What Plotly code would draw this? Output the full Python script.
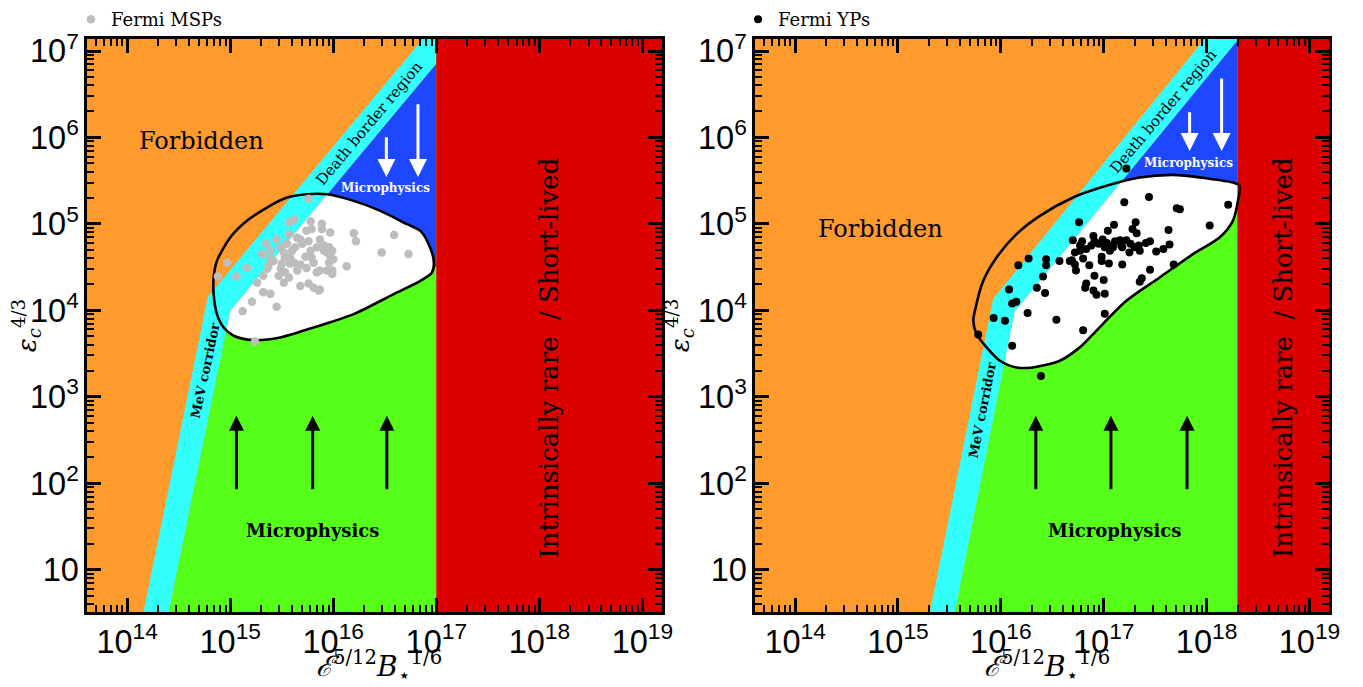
import numpy as np
import plotly.graph_objects as go

# ---------------- axes (log10 units) ----------------
X_RANGE = [13.61, 19.19]
Y_RANGE = [0.509, 7.139]

# ---------------- colours ----------------
ORANGE = "#FF9A2C"
GREEN = "#55FF1A"
BLUE = "#1E48FF"
CYAN = "#33FFFF"
RED = "#DD0000"
MSP_GREY = "#BDBDBD"

# ---------------- data: Fermi MSPs (log10 x, log10 y) ----------------
msp_log_x = [15.76, 15.57, 15.62, 15.78, 15.89, 15.89, 15.97, 15.74, 15.79, 16.20,
             16.22, 16.59, 16.47, 16.73, 15.57, 15.45, 15.35, 15.31, 15.39, 15.49,
             15.55, 15.60, 15.65, 15.68, 15.70, 15.76, 15.78, 15.84, 15.87, 15.91,
             15.94, 15.99, 16.00, 15.96, 16.13, 15.74, 15.84, 15.87, 15.94, 15.99,
             15.65, 15.58, 15.50, 15.39, 15.37, 15.49, 15.53, 15.57, 15.52, 15.47,
             15.32, 15.26, 15.16, 14.97, 14.88, 15.06, 15.68, 15.76, 15.81, 15.86,
             15.32, 15.39, 15.21, 15.12, 15.45, 15.24, 15.36, 15.42, 15.53, 15.58,
             15.63, 15.52, 15.62, 15.68, 15.73, 15.79, 15.81, 15.91, 15.96, 15.87,
             15.99, 15.97]
msp_log_y = [5.29, 5.02, 5.05, 5.03, 5.00, 4.94, 4.90, 4.92, 4.94, 4.89,
             4.80, 4.87, 4.67, 4.65, 4.88, 4.82, 4.77, 4.65, 4.69, 4.73,
             4.77, 4.69, 4.84, 4.82, 4.77, 4.80, 4.69, 4.73, 4.82, 4.75,
             4.67, 4.69, 4.59, 4.55, 4.51, 4.49, 4.44, 4.46, 4.46, 4.42,
             4.46, 4.54, 4.54, 4.59, 4.51, 4.48, 4.44, 4.38, 4.32, 4.40,
             4.40, 4.32, 4.49, 4.55, 4.39, 4.39, 4.28, 4.31, 4.26, 4.23,
             4.21, 4.19, 4.10, 3.99, 4.04, 3.64, 4.48, 4.57, 4.61, 4.61,
             4.73, 4.67, 4.55, 4.53, 4.62, 4.61, 4.55, 4.69, 4.73, 4.24,
             4.46, 4.63]

# ---------------- data: Fermi young pulsars (log10 x, log10 y) ----------------
yp_log_x = [17.20, 17.44, 17.71, 17.74, 18.21, 16.76, 17.10, 17.31, 17.28, 17.32,
            17.63, 18.03, 16.70, 16.79, 16.90, 16.91, 16.99, 17.04, 17.03, 17.06,
            17.11, 17.16, 17.18, 17.22, 17.26, 17.30, 17.34, 17.35, 17.41, 17.45,
            17.51, 17.58, 17.64, 17.25, 17.06, 17.01, 16.95, 16.88, 16.83, 16.77,
            16.72, 16.67, 16.57, 16.44, 16.44, 16.27, 16.17, 16.73, 16.72, 16.86,
            16.98, 17.05, 17.18, 17.45, 17.68, 16.41, 16.35, 16.43, 16.91, 17.00,
            16.83, 16.82, 16.90, 16.93, 17.01, 17.37, 17.35, 16.08, 16.15, 16.11,
            15.93, 16.04, 16.26, 16.54, 17.01, 16.80, 15.78, 16.11, 16.39, 16.77,
            16.80, 16.69, 17.17, 17.09, 16.98, 17.22]
yp_log_y = [5.25, 5.31, 5.18, 5.17, 5.22, 5.02, 4.99, 5.02, 4.94, 4.89,
            4.93, 4.98, 4.81, 4.80, 4.86, 4.80, 4.82, 4.92, 4.78, 4.75,
            4.80, 4.81, 4.73, 4.81, 4.77, 4.73, 4.75, 4.69, 4.78, 4.80,
            4.68, 4.71, 4.76, 4.67, 4.69, 4.73, 4.77, 4.75, 4.71, 4.69,
            4.67, 4.57, 4.57, 4.59, 4.52, 4.60, 4.52, 4.46, 4.53, 4.52,
            4.62, 4.54, 4.53, 4.47, 4.53, 4.39, 4.26, 4.20, 4.40, 4.35,
            4.31, 4.26, 4.23, 4.18, 4.19, 4.37, 4.33, 4.24, 4.10, 4.08,
            3.91, 3.88, 3.97, 3.89, 3.96, 3.77, 3.72, 3.59, 3.24, 4.75,
            4.60, 4.58, 4.75, 4.73, 4.57, 5.64]

# ---------------- population contours (log10) ----------------
msp_blob_log_x = [14.839, 14.871, 15.000, 15.162, 15.356, 15.551, 15.745, 15.939, 16.198,
                  16.457, 16.716, 16.845, 16.926, 16.975, 16.958, 16.845, 16.586, 16.198,
                  15.809, 15.486, 15.227, 15.033, 14.936, 14.871, 14.839]
msp_blob_log_y = [4.379, 4.572, 4.842, 5.035, 5.189, 5.304, 5.343, 5.343, 5.266,
                  5.150, 4.996, 4.919, 4.765, 4.572, 4.437, 4.341, 4.187, 3.956,
                  3.801, 3.686, 3.655, 3.705, 3.801, 3.956, 4.187]
yp_blob_log_x = [15.732, 15.748, 15.829, 15.958, 16.152, 16.379, 16.702, 17.026, 17.350,
                 17.673, 17.997, 18.256, 18.321, 18.305, 18.256, 18.126, 17.868, 17.544,
                 17.220, 16.897, 16.767, 16.573, 16.314, 16.152, 15.991, 15.861, 15.764]
yp_blob_log_y = [3.879, 3.995, 4.341, 4.611, 4.881, 5.093, 5.305, 5.440, 5.536,
                 5.567, 5.528, 5.478, 5.440, 5.266, 5.035, 4.842, 4.650, 4.380,
                 4.110, 3.725, 3.571, 3.416, 3.339, 3.339, 3.416, 3.571, 3.725]

# ---------------- region boundaries (log10) ----------------
# left panel (MSPs)
L_corridor_bottom_x = [14.158, 14.403]      # cyan corridor at bottom edge
L_bend_outer = [14.783, 4.156]               # left edge bend of the cyan band
L_bend_inner = [15.000, 3.996]               # right edge bend of the cyan band
L_band_top_x = 16.869                        # left edge of band at top
L_band_end_y = 6.856                         # right edge of band at red border
L_red_x = 17.0
L_blue_floor = 4.5
# right panel (YPs)
R_corridor_bottom_x = [15.311, 15.553]
R_bend_outer = [15.925, 4.130]
R_bend_inner = [16.133, 3.983]
R_band_top_x = 17.980
R_band_end_y = 7.125
R_red_x = 18.30
R_blue_floor = 5.45

# ---------------- labels / arrows (log10) ----------------
L_up_arrow_x = [15.06, 15.80, 16.52]
R_up_arrow_x = [16.34, 17.07, 17.81]
up_arrow_y = [1.913, 2.78]                    # tail, head
L_down_arrow_x = [16.515, 16.822]
L_down_arrow_top = [6.02, 6.40]
L_down_arrow_tip = 5.543
R_down_arrow_x = [17.835, 18.146]
R_down_arrow_top = [6.31, 6.70]
R_down_arrow_tip = 5.844

SERIF = "DejaVu Serif"
SANS = "Liberation Sans, Arial, sans-serif"

fig = go.Figure()


def p10(v):
    return list(10 ** np.asarray(v, dtype=float))


def poly(xa, ya, lx, ly, color):
    fig.add_trace(go.Scatter(x=p10(lx), y=p10(ly), mode="lines", fill="toself",
                             fillcolor=color, line=dict(width=0, color=color),
                             hoverinfo="skip", showlegend=False, xaxis=xa, yaxis=ya))


def add_panel(xa, ya, cb, bo, bi, btop, bend_y, red_x, blue_floor, blx, bly):
    x0, x1 = X_RANGE[0] - 0.2, X_RANGE[1] + 0.2
    y0, y1 = Y_RANGE[0] - 0.2, Y_RANGE[1] + 0.2
    yb, yt = Y_RANGE
    # green microphysics zone and blue zone
    poly(xa, ya, [x0, red_x, red_x, x0], [y0, y0, y1, y1], GREEN)
    poly(xa, ya, [x0, red_x, red_x, x0], [blue_floor, blue_floor, y1, y1], BLUE)
    # white population region
    fig.add_trace(go.Scatter(x=p10(blx + blx[:1]), y=p10(bly + bly[:1]), mode="lines",
                             fill="toself", fillcolor="white",
                             line=dict(width=0, color="white", shape="spline", smoothing=0.8),
                             hoverinfo="skip", showlegend=False, xaxis=xa, yaxis=ya))
    # forbidden region (covers up to band right edge)
    poly(xa, ya, [x0, cb[1], bi[0], red_x, red_x, x0],
         [y0, yb, bi[1], bend_y, y1, y1], ORANGE)
    # cyan band: MeV corridor + death border region
    poly(xa, ya, [cb[0], bo[0], btop, red_x, red_x, bi[0], cb[1]],
         [yb, bo[1], yt, yt, bend_y, bi[1], yb], CYAN)
    # red region
    poly(xa, ya, [red_x, x1, x1, red_x], [y0, y0, y1, y1], RED)
    # contour
    fig.add_trace(go.Scatter(x=p10(blx + blx[:1]), y=p10(bly + bly[:1]), mode="lines",
                             line=dict(width=2.6, color="black", shape="spline", smoothing=0.8),
                             hoverinfo="skip", showlegend=False, xaxis=xa, yaxis=ya))


add_panel("x", "y", L_corridor_bottom_x, L_bend_outer, L_bend_inner, L_band_top_x,
          L_band_end_y, L_red_x, L_blue_floor, msp_blob_log_x, msp_blob_log_y)
add_panel("x2", "y2", R_corridor_bottom_x, R_bend_outer, R_bend_inner, R_band_top_x,
          R_band_end_y, R_red_x, R_blue_floor, yp_blob_log_x, yp_blob_log_y)

fig.add_trace(go.Scatter(x=p10(msp_log_x), y=p10(msp_log_y), mode="markers", name="Fermi MSPs",
                         marker=dict(size=8.5, color=MSP_GREY), xaxis="x", yaxis="y",
                         legend="legend"))
fig.add_trace(go.Scatter(x=p10(yp_log_x), y=p10(yp_log_y), mode="markers", name="Fermi YPs",
                         marker=dict(size=8, color="black"), xaxis="x2", yaxis="y2",
                         legend="legend2"))

annotations = []


def txt(xr, yr, x, y, text, size, color="black", angle=0, bold=False):
    annotations.append(dict(xref=xr, yref=yr, x=x, y=y, text=("<b>%s</b>" % text) if bold else text,
                            showarrow=False, textangle=angle,
                            font=dict(family=SERIF, size=size, color=color)))


def arrow(xr, yr, x, ytail, yhead, color, size):
    annotations.append(dict(xref=xr, yref=yr, axref=xr, ayref=yr, x=x, y=yhead, ax=x, ay=ytail,
                            text="", showarrow=True, arrowhead=2, arrowsize=size,
                            arrowwidth=3, arrowcolor=color, standoff=0, startstandoff=0))


VERT = "Intrinsically rare&nbsp;&nbsp;/ Short-lived"
# left panel
txt("x", "y", 14.72, 5.96, "Forbidden", 24)
txt("x", "y", 16.35, 6.17, "Death border region", 15, angle=-50)
txt("x", "y", 16.51, 5.42, "Microphysics", 12, color="white", bold=True)
txt("x", "y", 14.76, 3.30, "MeV corridor", 13, angle=-78, bold=True)
txt("x", "y", 15.80, 1.45, "Microphysics", 18, bold=True)
txt("x", "y", 18.09, 3.45, VERT, 26, angle=-90)
# right panel
txt("x2", "y2", 14.83, 4.94, "Forbidden", 24)
txt("x2", "y2", 17.58, 6.31, "Death border region", 15, angle=-50)
txt("x2", "y2", 17.82, 5.70, "Microphysics", 12, color="white", bold=True)
txt("x2", "y2", 15.82, 2.84, "MeV corridor", 13, angle=-79, bold=True)
txt("x2", "y2", 17.10, 1.45, "Microphysics", 18, bold=True)
txt("x2", "y2", 18.745, 3.45, VERT, 26, angle=-90)

for xv in L_up_arrow_x:
    arrow("x", "y", xv, up_arrow_y[0], up_arrow_y[1], "black", 1.0)
for xv in R_up_arrow_x:
    arrow("x2", "y2", xv, up_arrow_y[0], up_arrow_y[1], "black", 1.0)
for xv, top in zip(L_down_arrow_x, L_down_arrow_top):
    arrow("x", "y", xv, top, L_down_arrow_tip, "white", 1.2)
for xv, top in zip(R_down_arrow_x, R_down_arrow_top):
    arrow("x2", "y2", xv, top, R_down_arrow_tip, "white", 1.2)

XTITLE = "<i>ℰ̇</i><sup>5/12</sup><i>B</i><sub>⋆</sub><sup>1/6</sup>"
YTITLE = "<i>ε</i><sub><i>c</i></sub><sup>4/3</sup>"
TITLE_FONT = dict(family=SERIF, size=28, color="black")
LEGEND_FONT = dict(family=SERIF, size=18, color="black")

# x-axis titles placed just below the tick labels of each panel
for dom in ["x domain", "x2 domain"]:
    annotations.append(dict(xref=dom, yref="paper", x=0.5, y=-0.095, xshift=5,
                            xanchor="center", yanchor="middle", showarrow=False,
                            text=XTITLE, font=TITLE_FONT))

axis_common = dict(type="log", showgrid=False, zeroline=False, showline=True, linewidth=3,
                   linecolor="black", mirror="ticks", ticks="inside", ticklen=14, tickwidth=3,
                   tickcolor="black", dtick=1, exponentformat="power",
                   tickfont=dict(family=SANS, size=26, color="black"),
                   minor=dict(ticks="inside", ticklen=7, tickwidth=2, tickcolor="black",
                              dtick="D1", showgrid=False),
                   automargin=True)

fig.update_layout(
    width=1363, height=687,
    margin=dict(l=79, r=42, t=31, b=83, autoexpand=False),
    paper_bgcolor="white", plot_bgcolor=ORANGE,
    xaxis=dict(axis_common, domain=[0, 0.46296], range=X_RANGE, anchor="y"),
    yaxis=dict(axis_common, domain=[0, 1], range=Y_RANGE, anchor="x",
               title=dict(text=YTITLE, font=dict(TITLE_FONT, size=26), standoff=0)),
    xaxis2=dict(axis_common, domain=[0.53784, 1], range=X_RANGE, anchor="y2"),
    yaxis2=dict(axis_common, domain=[0, 1], range=Y_RANGE, anchor="x2",
                title=dict(text=YTITLE, font=dict(TITLE_FONT, size=26), standoff=0)),
    legend=dict(x=-0.0129, y=1.034, xanchor="left", yanchor="middle",
                bgcolor="rgba(0,0,0,0)", font=LEGEND_FONT),
    legend2=dict(x=0.5242, y=1.034, xanchor="left", yanchor="middle",
                 bgcolor="rgba(0,0,0,0)", font=LEGEND_FONT),
    annotations=annotations,
    showlegend=True,
)

fig.write_html("out.html")
